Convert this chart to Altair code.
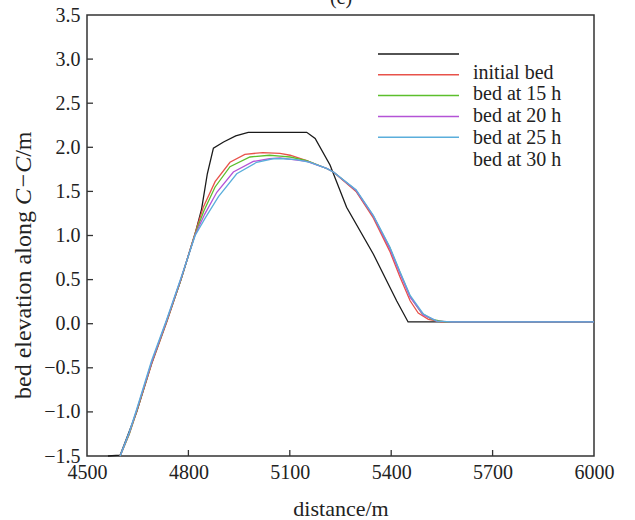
import altair as alt
import pandas as pd

# ---------------- data ----------------
series_names = ["initial bed", "bed at 15 h", "bed at 20 h", "bed at 25 h", "bed at 30 h"]
series_colors = ["#1a1a1a", "#e8524a", "#5cbf2c", "#b453d6", "#5aaedb"]

x_initial = [4562, 4598, 4647, 4691, 4736, 4778, 4820, 4839, 4856, 4874, 4904, 4940, 4977, 5050, 5150,
             5175, 5219, 5268, 5347, 5416, 5450, 6000]
y_initial = [-1.50, -1.49, -1.00, -0.45, 0.03, 0.50, 1.02, 1.30, 1.70, 1.99, 2.06, 2.13, 2.17, 2.17, 2.17,
             2.10, 1.80, 1.32, 0.79, 0.26, 0.02, 0.02]

x_15h = [4598, 4625, 4647, 4691, 4736, 4778, 4820, 4844, 4879, 4923, 4967, 5020, 5071, 5101, 5150,
         5209, 5229, 5296, 5347, 5396, 5426, 5456, 5480, 5510, 5550, 6000]
y_15h = [-1.50, -1.25, -1.00, -0.46, 0.02, 0.50, 1.03, 1.32, 1.61, 1.83, 1.92, 1.94, 1.93, 1.91, 1.85,
         1.76, 1.72, 1.50, 1.20, 0.82, 0.53, 0.26, 0.12, 0.05, 0.02, 0.02]

x_20h = [4598, 4625, 4647, 4691, 4736, 4778, 4820, 4846, 4879, 4923, 4982, 5040, 5071, 5101, 5150,
         5209, 5229, 5296, 5347, 5396, 5426, 5456, 5490, 5520, 5560, 6000]
y_20h = [-1.50, -1.25, -0.99, -0.45, 0.03, 0.50, 1.02, 1.28, 1.55, 1.78, 1.89, 1.91, 1.90, 1.89, 1.85,
         1.76, 1.72, 1.51, 1.22, 0.86, 0.58, 0.31, 0.12, 0.05, 0.02, 0.02]

x_25h = [4598, 4625, 4647, 4691, 4736, 4778, 4820, 4848, 4884, 4933, 4992, 5040, 5071, 5110, 5150,
         5209, 5229, 5296, 5347, 5396, 5426, 5456, 5495, 5535, 5580, 6000]
y_25h = [-1.50, -1.24, -0.98, -0.44, 0.04, 0.51, 1.01, 1.24, 1.49, 1.72, 1.84, 1.87, 1.88, 1.86, 1.84,
         1.76, 1.72, 1.51, 1.22, 0.85, 0.57, 0.30, 0.10, 0.03, 0.02, 0.02]

x_30h = [4598, 4625, 4647, 4691, 4736, 4778, 4820, 4850, 4889, 4943, 5002, 5050, 5081, 5120, 5160,
         5209, 5229, 5296, 5347, 5396, 5426, 5456, 5495, 5535, 5580, 6000]
y_30h = [-1.50, -1.23, -0.97, -0.42, 0.05, 0.52, 1.00, 1.20, 1.44, 1.70, 1.83, 1.87, 1.87, 1.86, 1.83,
         1.76, 1.72, 1.52, 1.23, 0.87, 0.59, 0.32, 0.11, 0.03, 0.02, 0.02]

x_ticks = [4500, 4800, 5100, 5400, 5700, 6000]
y_ticks = [-1.5, -1.0, -0.5, 0.0, 0.5, 1.0, 1.5, 2.0, 2.5, 3.0, 3.5]

xs = [x_initial, x_15h, x_20h, x_25h, x_30h]
ys = [y_initial, y_15h, y_20h, y_25h, y_30h]

# ---------------- layout ----------------
W, H = 507, 441
FONT = "Liberation Serif"
TXT = "#222222"

xscale = alt.Scale(domain=[4500, 6000], nice=False, zero=False)
yscale = alt.Scale(domain=[-1.5, 3.5], nice=False, zero=False)

xaxis = alt.Axis(values=x_ticks, title="distance/m", format="d", grid=False, domain=False,
                 ticks=False, labelPadding=6, labelFont=FONT, labelFontSize=20, labelColor=TXT,
                 titleFont=FONT, titleFontSize=22, titleFontWeight="normal", titleColor=TXT,
                 titlePadding=16, labelFlush=False)
yaxis = alt.Axis(values=y_ticks, title=None, format=".1f", grid=False, domain=False,
                 ticks=False, labelPadding=7, labelFont=FONT, labelFontSize=20, labelColor=TXT,
                 labelFlush=False)

layers = []
for i, (name, col) in enumerate(zip(series_names, series_colors)):
    df = pd.DataFrame({"distance": xs[i], "elev": ys[i], "series": name})
    layers.append(alt.Chart(df).mark_line(color=col, strokeWidth=1.3).encode(
        x=alt.X("distance:Q", scale=xscale, axis=xaxis),
        y=alt.Y("elev:Q", scale=yscale, axis=yaxis),
    ))

# inward ticks
ytick_df = pd.DataFrame({"elev": y_ticks[1:-1]})
xtick_df = pd.DataFrame({"distance": x_ticks[1:-1]})
layers.append(alt.Chart(ytick_df).mark_rule(color="#333333", strokeWidth=1.3).encode(
    y=alt.Y("elev:Q", scale=yscale, axis=yaxis), x=alt.value(0), x2=alt.value(6)))
layers.append(alt.Chart(xtick_df).mark_rule(color="#333333", strokeWidth=1.3).encode(
    x=alt.X("distance:Q", scale=xscale, axis=xaxis), y=alt.value(H), y2=alt.value(H - 6)))

# manual legend (line samples and labels as in the original)
lx0, lx1 = 291, 372
for i, col in enumerate(series_colors):
    yy = 39 + i * 20.8
    layers.append(alt.Chart(pd.DataFrame({"k": [0]})).mark_rule(color=col, strokeWidth=1.5).encode(
        x=alt.value(lx0), x2=alt.value(lx1), y=alt.value(yy)))
for i, name in enumerate(series_names):
    yy = 57.5 + i * 21.8
    layers.append(alt.Chart(pd.DataFrame({"t": [name]})).mark_text(
        align="left", baseline="middle", font=FONT, fontSize=20, color=TXT).encode(
        x=alt.value(386), y=alt.value(yy), text="t:N"))

# y-axis title with italic C-C (pieces laid end to end, reading upward)
TFS = 24
ty_start = 399 - 15
seg = [("bed elevation along ", "normal", 8.082), ("C\u2212C", "italic", 2.009), ("/m", "normal", 1.056)]
pos = ty_start
for txt, style, w_em in seg:
    layers.append(alt.Chart(pd.DataFrame({"t": [txt]})).mark_text(
        align="left", baseline="middle", angle=270, font=FONT, fontSize=TFS, fontStyle=style,
        color=TXT).encode(x=alt.value(-63), y=alt.value(pos), text="t:N"))
    pos -= w_em * TFS

# partially visible panel label (cut at the top edge, as in the original)
layers.append(alt.Chart(pd.DataFrame({"t": ["(c)"]})).mark_text(
    align="center", baseline="alphabetic", font=FONT, fontSize=20, color=TXT).encode(
    x=alt.value(254), y=alt.value(-11), text="t:N"))

chart = alt.layer(*layers).properties(
    width=W, height=H,
    autosize=alt.AutoSizeParams(type="none"),
    padding={"left": 87, "top": 15, "right": 41, "bottom": 64},
    background="white",
).configure_view(stroke="#333333", strokeWidth=1.5)

chart.save("out.html", embed_options={"renderer": "svg", "actions": False})
